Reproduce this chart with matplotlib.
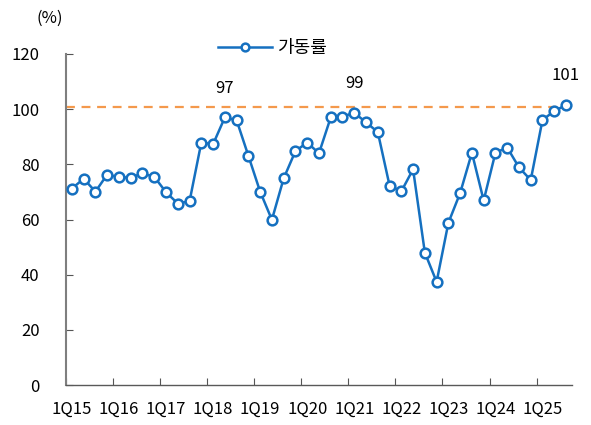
import matplotlib.pyplot as plt
import numpy as np

plt.rcParams['font.family'] = ['Noto Sans CJK KR', 'DejaVu Sans']

quarters = [f'{q}Q{y}' for y in range(15, 26) for q in range(1, 5)][:43]
utilization = [71.2, 74.8, 70.1, 76.3, 75.3, 75.2, 76.7, 75.5, 69.9, 65.8, 66.6,
               87.9, 87.3, 97.0, 96.0, 83.1, 70.1, 59.9, 74.9, 84.8, 87.9, 84.0,
               97.0, 97.3, 98.7, 95.2, 91.7, 72.3, 70.2, 78.2, 48.0, 37.4, 58.8,
               69.6, 84.2, 66.9, 84.2, 86.1, 78.9, 74.3, 96.1, 99.3, 101.5]
ref_level = 100.6
labels = {'2Q18': '97', '1Q21': '99', '3Q25': '101'}
year_labels = ['1Q15', '1Q16', '1Q17', '1Q18', '1Q19', '1Q20', '1Q21', '1Q22', '1Q23', '1Q24', '1Q25']

blue = '#1570C0'
fig = plt.figure(figsize=(5.91, 4.25), dpi=100)
ax = fig.add_axes([0.1117, 0.094, 0.856, 0.779])

x = np.arange(len(quarters))
ax.axhline(ref_level, color='#F4994C', lw=1.6, ls=(0, (4, 3)), zorder=1)
ax.plot(x, utilization, color=blue, lw=1.8, marker='o', ms=7, mfc='white',
        mec=blue, mew=1.8, label='가동률', zorder=3)

for q, txt in labels.items():
    i = quarters.index(q)
    ax.annotate(txt, (i, utilization[i]), xytext=(0, 21), textcoords='offset points',
                ha='center', va='center', fontsize=12)

ax.set_xlim(-0.5, len(quarters) - 0.5)
ax.set_ylim(0, 120)
ax.set_yticks(range(0, 121, 20))
ax.tick_params(axis='y', direction='in', length=5, pad=19, labelsize=12, color='#555555')

# ticks on category boundaries, labels centered on first quarter of each year
ax.set_xticks([quarters.index(l) - 0.5 for l in year_labels], minor=False)
ax.set_xticklabels([])
ax.set_xticks([quarters.index(l) for l in year_labels], minor=True)
ax.set_xticklabels(year_labels, minor=True)
ax.tick_params(axis='x', which='major', direction='in', length=5, color='#555555')
ax.tick_params(axis='x', which='minor', length=0, pad=11, labelsize=12)

for s in ['top', 'right']:
    ax.spines[s].set_visible(False)
ax.spines['left'].set_color('#7f7f7f')
ax.spines['left'].set_linewidth(1.5)
ax.spines['bottom'].set_color('#595959')
ax.spines['bottom'].set_linewidth(1.0)

ax.legend(loc='center left', bbox_to_anchor=(0.30, 1.018), frameon=False,
          borderpad=0, handlelength=3.0, handletextpad=0.3, fontsize=13,
          borderaxespad=0, markerscale=0.8)

fig.text(0.085, 0.958, '(%)', ha='center', va='center', fontsize=12)

plt.savefig('out.png', dpi=100)
